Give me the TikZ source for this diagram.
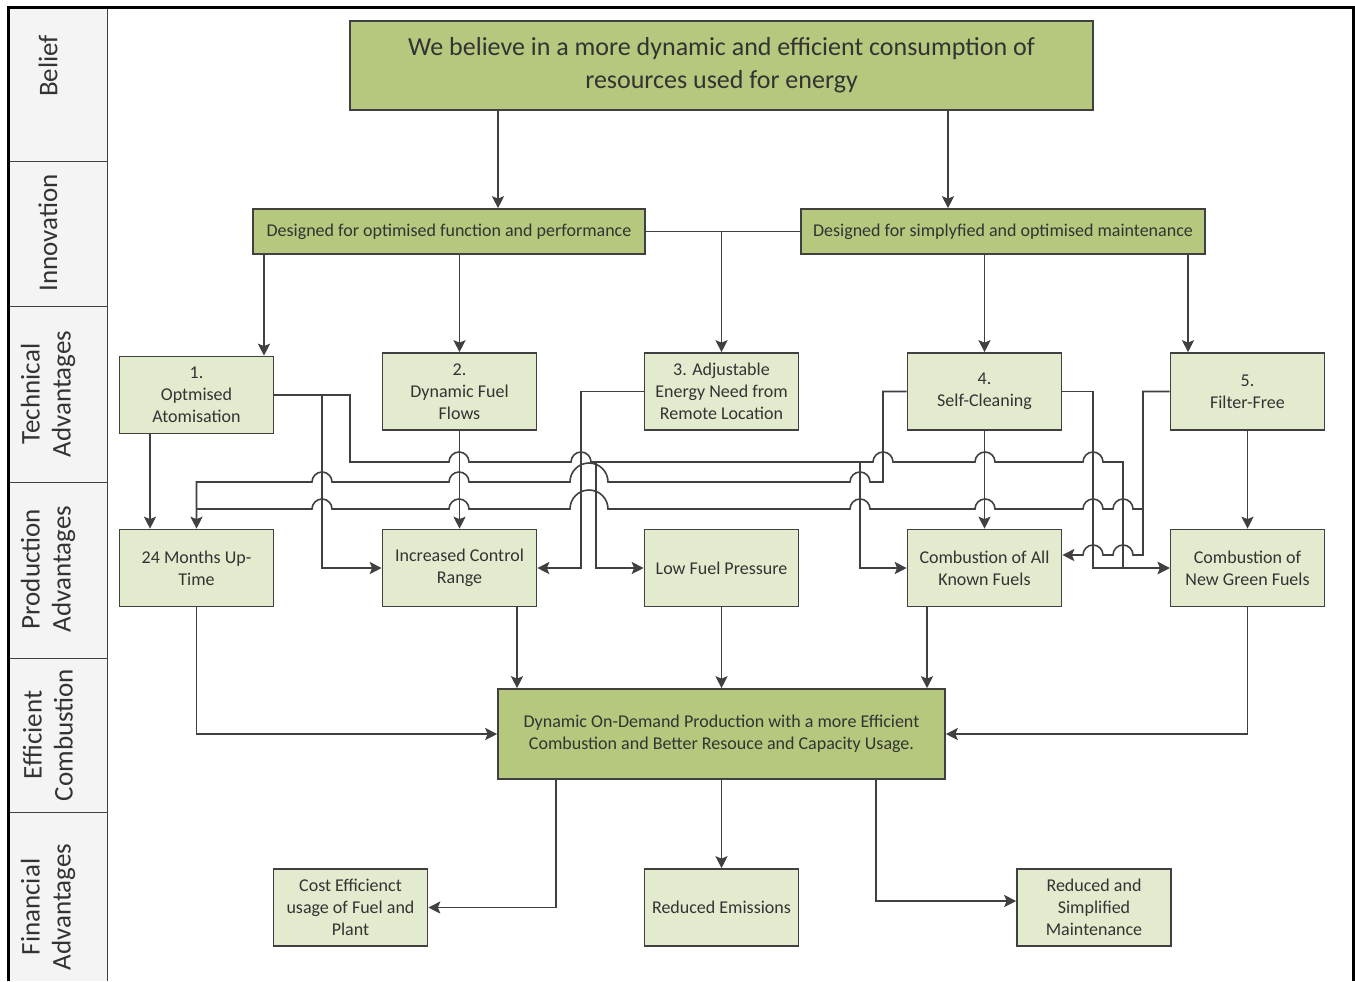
\documentclass[tikz,border=0pt]{standalone}
\usepackage{fontspec}
\setmainfont{Carlito}
\usetikzlibrary{arrows.meta}

\definecolor{darkfill}{RGB}{181,200,125}
\definecolor{lightfill}{RGB}{227,235,206}
\definecolor{edge}{RGB}{64,64,64}
\definecolor{lanefill}{RGB}{244,244,244}

\tikzset{
  bigbox/.style={draw=edge, line width=0.8pt, fill=darkfill, inner sep=0pt, align=center, text=black!80},
  smallbox/.style={draw=edge, line width=0.8pt, fill=lightfill, inner sep=0pt, align=center,
    minimum width=77pt, minimum height=38.5pt, font=\fontsize{9}{11}\selectfont, text=black!80},
  lanelabel/.style={rotate=90, align=center, font=\fontsize{13.5}{15.5}\selectfont, text=black!80},
  conn/.style={draw=edge, line width=0.8pt},
  arr/.style={conn, -{Stealth[length=6pt,width=6pt,inset=1.2pt]}},
}

\begin{document}
\begin{tikzpicture}[x=0.5pt,y=-0.5pt]
\useasboundingbox (0,0) rectangle (1355,981);

% swimlanes
\fill[lanefill] (8,7) rectangle (107,981);
\draw[edge, line width=0.5pt] (107,7) -- (107,981);
\foreach \yy in {161,306,482,658,812}
  \draw[edge, line width=0.5pt] (8,\yy) -- (107,\yy);
\draw[black, line width=1.5pt] (8,981) -- (8,7) -- (1353,7) -- (1353,981);

\node[lanelabel] (lbelief) at (48,66) {Belief};
\node[lanelabel] (linnov) at (48,233) {Innovation};
\node[lanelabel] (ltech) at (48,394) {Technical\\Advantages};
\node[lanelabel] (lprod) at (48,569) {Production\\Advantages};
\node[lanelabel] (leff) at (48,735) {Efficient\\Combustion};
\node[lanelabel] (lfin) at (48,907) {Financial\\Advantages};

% boxes
\node[bigbox, minimum width=371.5pt, minimum height=44.5pt, font=\fontsize{13}{16.5}\selectfont] (belief) at (721.5,65.5)
  {We believe in a more dynamic and efficient consumption of\\resources used for energy};
\node[bigbox, minimum width=196pt, minimum height=22.5pt, font=\fontsize{9}{11}\selectfont] (inov1) at (449,231.5)
  {Designed for optimised function and performance};
\node[bigbox, minimum width=202pt, minimum height=22.5pt, font=\fontsize{9}{11}\selectfont] (inov2) at (1003,231.5)
  {Designed for simplyfied and optimised maintenance};

\node[smallbox] (t1) at (196.5,395) {1.\\Optmised\\Atomisation};
\node[smallbox] (t2) at (459.5,391.5) {2.\\Dynamic Fuel\\Flows};
\node[smallbox] (t3) at (721.5,391.5) {3. Adjustable\\Energy Need from\\Remote Location};
\node[smallbox] (t4) at (984.5,391.5) {4.\\Self-Cleaning};
\node[smallbox] (t5) at (1247.5,391.5) {5.\\Filter-Free};

\node[smallbox] (p1) at (196.5,568) {24 Months Up-\\Time};
\node[smallbox] (p2) at (459.5,568) {Increased Control\\Range};
\node[smallbox] (p3) at (721.5,568) {Low Fuel Pressure};
\node[smallbox] (p4) at (984.5,568) {Combustion of All\\Known Fuels};
\node[smallbox] (p5) at (1247.5,568) {Combustion of\\New Green Fuels};

\node[bigbox, minimum width=223.5pt, minimum height=45pt, font=\fontsize{9}{11}\selectfont] (eff) at (721.5,734)
  {Dynamic On-Demand Production with a more Efficient\\Combustion and Better Resouce and Capacity Usage.};

\node[smallbox] (f1) at (350.5,907.5) {Cost Efficienct\\usage of Fuel and\\Plant};
\node[smallbox] (f2) at (721.5,907.5) {Reduced Emissions};
\node[smallbox] (f3) at (1094,907.5) {Reduced and\\Simplified\\Maintenance};

% belief and innovation
\draw[arr] (belief.south -| 498,0) -- (inov1.north -| 498,0);
\draw[arr] (belief.south -| 948,0) -- (inov2.north -| 948,0);
\draw[conn] (inov1.east) -- (inov2.west);
\draw[arr] (inov1.east -| t3.north) -- (t3.north);
\draw[arr] (inov1.south -| 264,0) -- (t1.north -| 264,0);
\draw[arr] (inov1.south -| t2.north) -- (t2.north);
\draw[arr] (inov2.south -| t4.north) -- (t4.north);
\draw[arr] (inov2.south -| 1188,0) -- (t5.north -| 1188,0);

% technical to production
\draw[arr] (t1.south -| 150,0) -- (p1.north -| 150,0);
\draw[arr] (t2.south) -- (p2.north);
\draw[arr] (t4.south) -- (p4.north);
\draw[arr] (t5.south) -- (p5.north);
\draw[arr] (t1.east) -- (322,395) |- (p2.west);
\draw[arr] (t3.west) -| (581,568) -- (p2.east);
\draw[arr] (t4.east) -| (1093,568) -- (p5.west);

\coordinate (jlow) at (596,462);
\coordinate (jall) at (860,462);
\coordinate (jfree) at (1143,509);

\draw[arr] (t1.east) -| (350,462) -- (449,462) arc (180:0:5pt) -- (571,462) arc (180:0:5pt)
  -- (873,462) arc (180:0:5pt) -- (975,462) arc (180:0:5pt) -- (1083,462) arc (180:0:5pt)
  -| (1123,568) -- (p5.west);
\draw[arr] (jlow) |- (p3.west);
\draw[arr] (jall) |- (p4.west);

\draw[arr] (t4.west) -| (883,482) -- (870,482) arc (0:180:5pt) -- (608,482) arc (0:180:9.5pt)
  -- (469,482) arc (0:180:5pt) -- (332,482) arc (0:180:5pt) -| (p1.north);

\draw[arr] (t5.west) -| (1143,555) -- (1133,555) arc (0:180:5pt) -- (1103,555) arc (0:180:5pt)
  -- (p4.east |- 0,555);
\draw[conn] (jfree) -- (1133,509) arc (0:180:5pt) -- (1103,509) arc (0:180:5pt)
  -- (995,509) arc (0:180:5pt) -- (870,509) arc (0:180:5pt) -- (608,509) arc (0:180:9.5pt)
  -- (469,509) arc (0:180:5pt) -- (332,509) arc (0:180:5pt) -- (197,509);

% production to efficient combustion
\draw[arr] (p1.south) |- (eff.west);
\draw[arr] (p2.south -| 517,0) -- (eff.north -| 517,0);
\draw[arr] (p3.south) -- (eff.north);
\draw[arr] (p4.south -| 927,0) -- (eff.north -| 927,0);
\draw[arr] (p5.south) |- (eff.east);

% financial
\draw[arr] (eff.south -| 556,0) |- (f1.east);
\draw[arr] (eff.south) -- (f2.north);
\draw[arr] (eff.south -| 876,0) |- (f3.west |- 0,901);
\end{tikzpicture}
\end{document}
